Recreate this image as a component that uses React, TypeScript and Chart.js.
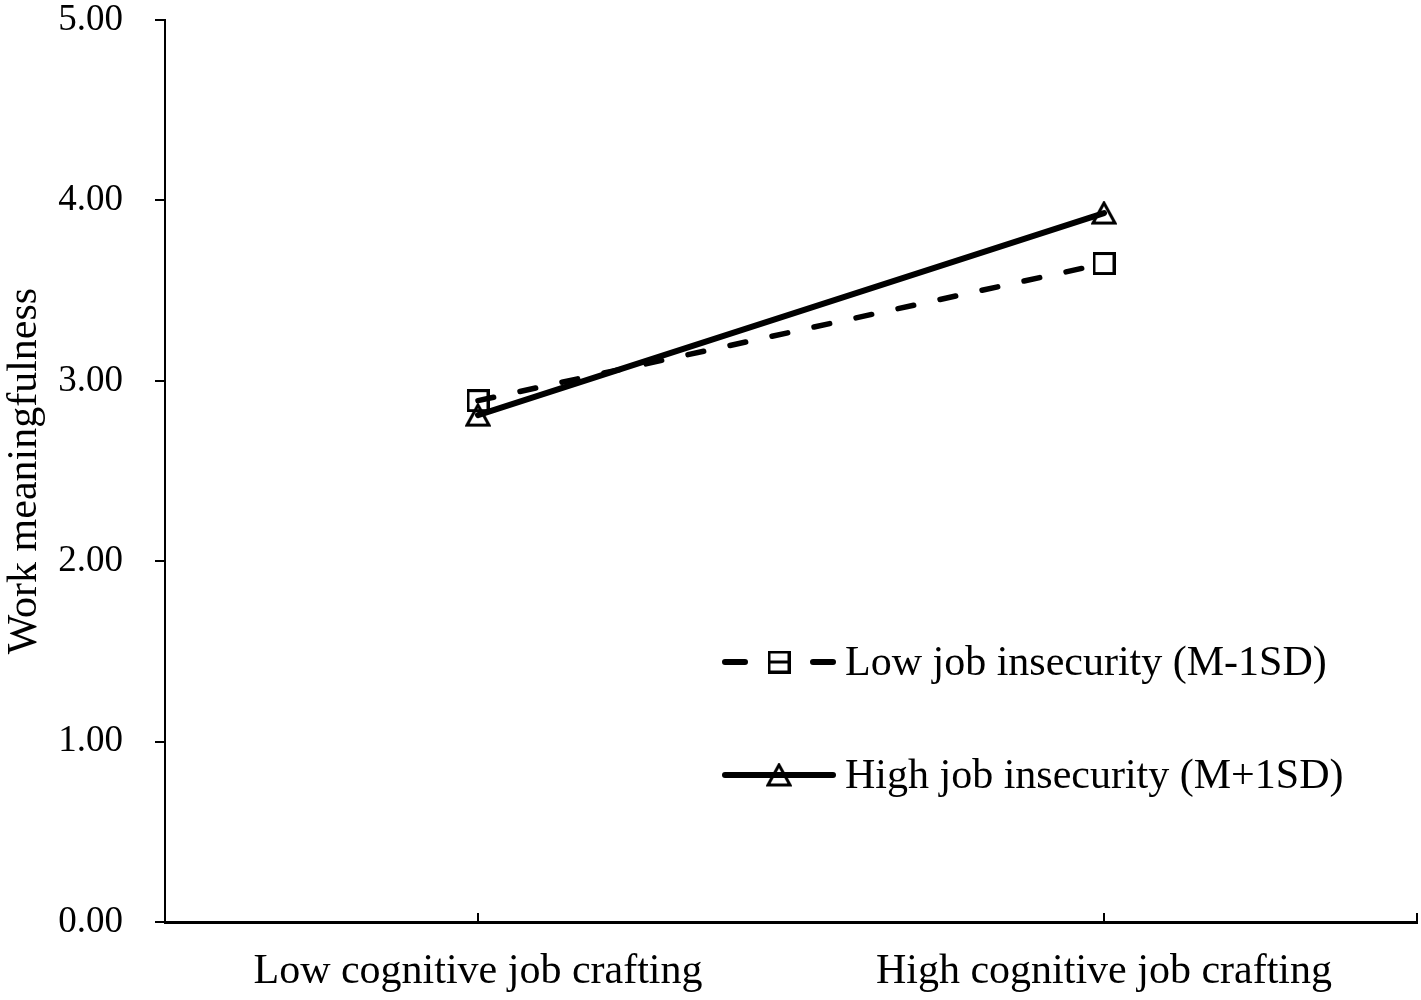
import React, { useEffect, useRef } from 'react';
import { Chart, registerables } from 'chart.js';

Chart.register(...registerables);

const categories = ['Low cognitive job crafting', 'High cognitive job crafting'];
const lowInsecurity = [2.89, 3.65];
const highInsecurity = [2.81, 3.93];
const seriesLabels = ['Low job insecurity (M-1SD)', 'High job insecurity (M+1SD)'];
const yAxisTitle = 'Work meaningfulness';
const yMin = 0;
const yMax = 5;
const yStep = 1;

const SERIF = '"Liberation Serif", "Times New Roman", serif';

function makeSquare(): HTMLCanvasElement {
  const c = document.createElement('canvas');
  c.width = 23;
  c.height = 23;
  const ctx = c.getContext('2d')!;
  ctx.strokeStyle = '#000';
  ctx.lineWidth = 3;
  ctx.strokeRect(1.5, 1.5, 20, 20);
  return c;
}

function makeTriangle(): HTMLCanvasElement {
  const c = document.createElement('canvas');
  c.width = 26;
  c.height = 25;
  const ctx = c.getContext('2d')!;
  ctx.strokeStyle = '#000';
  ctx.lineWidth = 3;
  ctx.lineJoin = 'miter';
  ctx.beginPath();
  ctx.moveTo(13, 2.5);
  ctx.lineTo(2, 22.5);
  ctx.lineTo(24, 22.5);
  ctx.closePath();
  ctx.stroke();
  return c;
}

function zeroPadding(scale: any) {
  scale.paddingTop = 0;
  scale.paddingBottom = 0;
  scale.paddingLeft = 0;
  scale.paddingRight = 0;
}

export default function App() {
  const ref = useRef<HTMLCanvasElement | null>(null);

  useEffect(() => {
    if (!ref.current) return;
    const sq = makeSquare();
    const tri = makeTriangle();
    const dashPattern = [16, 27];

    const innerTicks = {
      id: 'innerTicks',
      afterDatasetsDraw(chart: any) {
        const ctx = chart.ctx;
        const x = chart.scales.x;
        const bottom = chart.chartArea.bottom;
        const xs: number[] = categories.map((_, i) => x.getPixelForValue(i));
        xs.push(chart.chartArea.right);
        ctx.save();
        ctx.strokeStyle = '#000';
        ctx.lineWidth = 2;
        xs.forEach((px) => {
          ctx.beginPath();
          ctx.moveTo(px, bottom);
          ctx.lineTo(px, bottom - 9);
          ctx.stroke();
        });
        ctx.restore();
      },
    };

    const customLegend = {
      id: 'customLegend',
      afterDraw(chart: any) {
        const ctx = chart.ctx;
        const rows = [
          { y: 662, dashed: true, img: sq, label: seriesLabels[0] },
          { y: 775, dashed: false, img: tri, label: seriesLabels[1] },
        ];
        const x0 = 725;
        const x1 = 833;
        const xm = (x0 + x1) / 2;
        ctx.save();
        rows.forEach((r) => {
          ctx.strokeStyle = '#000';
          ctx.lineWidth = 6;
          ctx.lineCap = 'round';
          ctx.beginPath();
          if (r.dashed) {
            ctx.moveTo(x0, r.y);
            ctx.lineTo(x0 + 20, r.y);
            ctx.moveTo(x1 - 20, r.y);
            ctx.lineTo(x1, r.y);
          } else {
            ctx.moveTo(x0, r.y);
            ctx.lineTo(x1, r.y);
          }
          ctx.stroke();
          if (r.dashed) {
            ctx.lineWidth = 3;
            ctx.lineCap = 'butt';
            ctx.beginPath();
            ctx.moveTo(xm - 10, r.y);
            ctx.lineTo(xm + 10, r.y);
            ctx.stroke();
          }
          ctx.drawImage(r.img, xm - r.img.width / 2, r.y - r.img.height / 2);
          ctx.fillStyle = '#000';
          ctx.font = `42px ${SERIF}`;
          ctx.textAlign = 'left';
          ctx.textBaseline = 'middle';
          ctx.fillText(r.label, 845, r.y + 2);
        });
        ctx.restore();
      },
    };

    const chart = new Chart(ref.current, {
      type: 'line',
      data: {
        labels: categories,
        datasets: [
          {
            label: seriesLabels[0],
            data: lowInsecurity,
            borderColor: '#000',
            backgroundColor: 'transparent',
            borderWidth: 5.5,
            borderDash: dashPattern,
            borderCapStyle: 'round',
            pointStyle: sq as any,
            pointRadius: 12,
            fill: false,
            tension: 0,
          },
          {
            label: seriesLabels[1],
            data: highInsecurity,
            borderColor: '#000',
            backgroundColor: 'transparent',
            borderWidth: 6,
            borderCapStyle: 'round',
            pointStyle: tri as any,
            pointRadius: 12,
            fill: false,
            tension: 0,
          },
        ],
      },
      options: {
        animation: false,
        responsive: false,
        devicePixelRatio: 1,
        layout: { autoPadding: false, padding: { top: 20, right: 4, left: 0, bottom: 0 } },
        plugins: {
          legend: { display: false },
          tooltip: { enabled: false },
        },
        scales: {
          x: {
            type: 'category',
            offset: true,
            grid: { drawOnChartArea: false, drawTicks: false, display: true },
            border: { display: true, color: '#000', width: 3 },
            ticks: {
              color: '#000',
              font: { family: SERIF, size: 42 },
              padding: 25,
              maxRotation: 0,
              autoSkip: false,
            },
            afterFit(scale: any) {
              scale.height = 78;
              zeroPadding(scale);
            },
          },
          y: {
            min: yMin,
            max: yMax,
            grid: {
              drawOnChartArea: false,
              drawTicks: true,
              tickLength: 10,
              color: '#000',
              lineWidth: 2,
            },
            border: { display: true, color: '#000', width: 2 },
            ticks: {
              stepSize: yStep,
              color: '#000',
              font: { family: SERIF, size: 37 },
              padding: 32,
              callback: (v: any) => Number(v).toFixed(2),
            },
            title: {
              display: true,
              text: yAxisTitle,
              color: '#000',
              font: { family: SERIF, size: 42 },
              padding: { top: 0, bottom: 0 },
            },
            afterFit(scale: any) {
              scale.width = 165;
              zeroPadding(scale);
            },
          },
        },
      },
      plugins: [innerTicks, customLegend],
    });
    return () => chart.destroy();
  }, []);

  return (
    <div style={{ position: 'absolute', left: 0, top: 0, width: 1421, height: 1000, background: '#fff' }}>
      <canvas ref={ref} width={1421} height={1000} style={{ display: 'block' }} />
    </div>
  );
}
